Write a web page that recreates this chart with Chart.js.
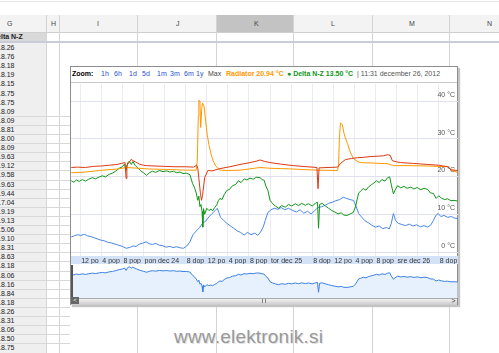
<!DOCTYPE html>
<html lang="sl">
<head>
<meta charset="utf-8" />
<title>Temperature - Delta N-Z</title>
<script src="https://cdn.jsdelivr.net/npm/chart.js@4.4.0/dist/chart.umd.min.js"></script>
<style>
  body { margin: 0; width: 499px; height: 353px; overflow: hidden; position: relative; background: #fff; font-family: "Liberation Sans", Arial, sans-serif; }
  .a { position: absolute; }
  .colhead { top: 15px; height: 17px; background: #f3f3f3; border-bottom: 1px solid #cfcfcf; }
  .vline { width: 1px; background: #d4d4d4; }
  .hline { height: 1px; background: #d8d8d8; }
  .cell { font-size: 7px; color: #222; white-space: nowrap; line-height: 9px; }
  #box { left: 70px; top: 66px; width: 386px; height: 237px; border: 1px solid #8d8d8d; background: #fff; box-shadow: 2px 2px 1px #c4c4c4; }
  .lnk { color: #2a4fd0; }
  #wm { left: 174px; top: 326px; font-size: 19px; color: #999; letter-spacing: 0.2px; text-shadow: 1px 1px 0 #e2e2e2, -1px 0 0 #fff; }
</style>
</head>
<body>
<div id="sheet"></div>

<div id="box" class="a"></div>
<div class="a" style="left:71px; top:82px; width:386px; height:1px; background:#c9c9c9;"></div>
<div id="legend"></div>

<canvas id="main" class="a" style="left:71px; top:83px;" width="387" height="181"></canvas>
<canvas id="nav" class="a" style="left:71px; top:265px;" width="387" height="33"></canvas>

<!-- scrollbar under the navigator -->
<div class="a" style="left:71px; top:298px; width:386px; height:6px; background:linear-gradient(#f2f2f2,#c9c9c9); border-top:1px solid #aaa;"></div>
<div class="a" style="left:71px; top:265px; width:2px; height:39px; background:#555;"></div>
<div class="a" style="left:71px; top:297px; width:8px; height:7px; background:#666; color:#fff; font-size:6px; line-height:7px; text-align:center;">&lt;</div>
<div class="a" style="left:450px; top:297px; width:7px; height:7px; color:#333; font-size:7px; line-height:7px; text-align:center;">&gt;</div>
<div class="a" style="left:262px; top:299px; width:1px; height:4px; background:#888;"></div>
<div class="a" style="left:265px; top:299px; width:1px; height:4px; background:#888;"></div>

<div id="wm" class="a">www.elektronik.si</div>

<script>
// time axis is hours from pon dec 24 2012 00:00
const xMin = -13.75;
const xMax = 59.65;

const tickHours = [-12, -8, -4, 0, 4, 8, 12, 16, 20, 24, 28, 32, 36, 40, 44, 48, 52, 56];
const tickLabels = ['12 po', '4 pop', '8 pop', 'pon dec 24', '', '8 dop', '12 po', '4 pop', '8 pop',
                    'tor dec 25', '', '8 dop', '12 po', '4 pop', '8 pop', 'sre dec 26', '', '8 dop'];
const yTicks = [0, 10, 20, 30, 40];

// red series
const redHours = [-13.7, -12.5, -11, -9.5, -8, -6.5, -5, -4.2, -3.5, -3.3, -3.15, -2.8, -2.3, -2, -1.5, -0.8,
  0, 0.6, 2, 4, 6, 8, 9.5, 10.1, 10.3, 10.5, 10.8, 11, 11.2, 11.6, 12.2, 13, 14.5, 16.4, 18.3, 20.2, 21.5, 22.1,
  23, 24, 26, 28.4, 31, 32.9, 33.1, 33.3, 35, 36.8, 37.3, 38.3, 39.5, 40.6, 41.8, 43, 44.5, 45.5, 46.3, 46.8,
  47.2, 48, 48.8, 51, 53.9, 56, 57.7, 58.3, 59.6];
const redTemps = [22.4, 22.5, 22.4, 22.7, 22.8, 23.0, 23.2, 23.5, 23.7, 19.5, 23.0, 23.6, 24.6, 24.2, 23.9, 23.3,
  23.0, 22.9, 22.8, 22.7, 22.6, 22.6, 22.5, 23.0, 22.2, 19.5, 15.5, 13.7, 15.0, 19.7, 21.6, 21.5, 22.1, 22.6, 23.2, 23.7, 24.1, 24.4,
  24.0, 23.7, 23.3, 22.9, 22.6, 22.4, 16.8, 22.3, 22.4, 22.5, 23.4, 24.5, 24.8, 25.0, 25.1, 25.3, 25.4, 25.5, 25.8, 25.6,
  24.2, 23.9, 23.7, 23.5, 23.2, 23.0, 22.6, 21.8, 21.6];

// Radiator (orange)
const radHours = [-13.7, -11, -8.4, -5, -3.2, -1, 1.1, 4, 6, 8, 10, 10.2, 10.4, 10.5, 10.7, 10.85, 11.05, 11.2,
  11.5, 11.8, 12.1, 12.4, 12.8, 13.2, 13.7, 14.5, 16, 18.3, 20, 22.1, 24, 28.4, 31, 33, 36.8, 37, 37.15, 37.35,
  37.7, 38.1, 38.7, 39.2, 39.8, 40.5, 41.1, 43, 46.3, 47.2, 47.6, 50, 54, 57.7, 58.5, 59.6];
const radTemps = [21.0, 21.2, 21.6, 22.0, 22.4, 22.2, 22.0, 21.9, 21.8, 21.7, 21.7, 24, 36, 40.2, 40.0, 33, 38, 39.5,
  38.5, 34.5, 31, 28.5, 26, 24.2, 22.8, 21.7, 21.6, 21.7, 22.0, 22.4, 22.2, 22.0, 21.8, 21.7, 21.6, 23, 30, 34.2,
  33.8, 31, 28.7, 26.5, 24.8, 24.1, 23.7, 23.6, 23.4, 23.0, 22.9, 22.9, 22.8, 22.6, 21.6, 21.1];

// Delta N-Z (green)
const deltaHours = [-13.7, -13.2, -12.7, -12.2, -11.6, -11, -10.4, -9.7, -9.1, -8.4, -7.8, -7.2, -6.5, -5.9, -5.3,
  -4.6, -4, -3.6, -3.3, -3, -2.7, -2.3, -2, -1.6, -1.1, -0.6, 0, 0.6, 1.1, 1.7, 2.3, 3, 3.7, 4.4, 5, 5.7, 6.3,
  6.9, 7.5, 8.1, 8.8, 9.3, 9.7, 10, 10.3, 10.5, 10.7, 10.9, 11.1, 11.25, 11.4, 11.6, 12, 12.4, 12.8, 13.1, 13.5,
  13.9, 14.2, 14.5, 14.9, 15.3, 15.8, 16.3, 16.9, 17.5, 18, 18.5, 19.1, 19.6, 20.2, 20.8, 21.4, 22.1, 22.5, 22.9,
  23.2, 23.6, 24, 24.5, 25, 25.6, 26.2, 26.9, 27.5, 28.1, 28.8, 29.4, 30, 30.7, 31.3, 32, 32.6, 33, 33.2, 33.4,
  33.9, 34.5, 35.1, 35.7, 36.3, 36.9, 37.5, 38, 38.6, 39.2, 39.8, 40.2, 40.5, 40.8, 41.2, 41.7, 42.2, 42.7, 43.2,
  43.7, 44.2, 44.7, 45.2, 45.8, 46.3, 46.7, 47, 47.4, 47.7, 48.2, 48.8, 49.4, 50, 50.7, 51.3, 51.9, 52.6, 53.2,
  53.9, 54.4, 55, 55.5, 56, 56.5, 57.1, 57.7, 58.3, 58.9, 59.6];
const deltaTemps = [18.9, 18.5, 19.1, 18.7, 19.2, 18.8, 19.3, 19.7, 19.4, 19.9, 20.2, 19.9, 20.6, 20.9, 21.4,
  22.2, 22.6, 23.3, 21.6, 23.6, 24.1, 23.2, 24.0, 23.0, 22.3, 21.6, 21.0, 20.3, 21.0, 21.4, 21.1, 21.6, 21.3, 21.5, 21.2, 21.4, 21.0,
  21.2, 20.8, 20.9, 20.5, 18.2, 17.0, 15.6, 13.7, 14.8, 12.0, 12.6, 10.8, 6.6, 11.5, 10.0, 11.6, 11.0, 11.4, 10.9, 11.8,
  12.5, 13.6, 14.2, 13.9, 15.2, 16.3, 16.6, 17.6, 17.9, 18.9, 18.4, 19.4, 19.1, 19.6, 19.3, 19.8, 19.7, 19.2, 19.0,
  17.5, 16.3, 13.7, 12.8, 12.2, 11.6, 12.3, 11.9, 12.6, 12.2, 12.8, 12.3, 12.9, 12.4, 12.8, 12.2, 12.9, 13.2, 6.3, 12.6,
  12.9, 12.2, 11.6, 11.0, 10.6, 10.1, 10.4, 9.8, 9.7, 10.1, 10.5, 12.0, 13.8, 15.6, 16.2, 16.8, 16.4, 17.3, 17.8,
  18.3, 18.9, 18.4, 19.2, 18.8, 19.7, 19.9, 17.8, 15.4, 16.4, 17.6, 17.0, 17.4, 16.9, 17.2, 16.7, 17.1, 16.5, 16.9,
  16.6, 15.7, 15.5, 14.2, 14.9, 14.3, 13.9, 14.1, 13.6, 13.7, 13.5];

// blue series
const blueHours = [-13.7, -13.1, -12.5, -11.9, -11.2, -10.6, -10, -9.4, -8.8, -8.2, -7.5, -6.8, -6.1, -5.4, -4.7,
  -4, -3.3, -2.6, -2, -1.4, -0.8, -0.2, 0.5, 1.1, 1.7, 2.3, 3, 3.6, 4.3, 5, 5.6, 6.3, 7, 7.6, 8.2, 8.8, 9.4, 10,
  10.6, 11.2, 11.8, 12.4, 13, 13.6, 14, 14.3, 14.6, 15.2, 15.8, 16.5, 17.1, 17.8, 18.4, 19.1, 19.7, 20.4, 21.1,
  21.7, 22.2, 22.7, 23.1, 23.6, 24.2, 24.8, 25.5, 26.1, 26.8, 27.5, 28.3, 29, 29.7, 30.4, 31.1, 31.8, 32.5, 33.1,
  33.8, 34.5, 35.1, 35.8, 36.5, 37.2, 37.9, 38.5, 39.2, 39.8, 40.3, 40.8, 41.4, 42, 42.6, 43.3, 44, 44.7, 45.4,
  46.1, 46.6, 47, 47.4, 47.8, 48.3, 49, 49.7, 50.4, 51.1, 51.8, 52.5, 53.2, 53.9, 54.5, 55, 55.5, 55.9, 56.4, 57,
  57.7, 58.4, 59, 59.6];
const blueTemps = [4.0, 4.3, 4.6, 4.4, 4.7, 4.3, 4.1, 3.8, 3.5, 3.2, 3.0, 2.6, 2.4, 2.1, 1.8,
  1.5, 1.0, 1.2, 1.6, 1.5, 2.1, 2.3, 2.7, 2.2, 2.0, 2.3, 1.8, 1.7, 1.3, 1.5, 1.2, 1.4, 1.1, 1.0, 1.6, 2.7, 4.6, 5.6,
  6.4, 7.6, 8.2, 9.3, 10.2, 11.0, 11.6, 10.4, 9.2, 8.4, 7.6, 6.9, 6.3, 5.6, 5.2, 4.5, 5.2, 4.6, 5.0,
  4.4, 5.3, 6.6, 8.4, 10.5, 11.2, 11.6, 11.3, 11.8, 11.2, 11.6, 11.0, 10.6, 11.2, 10.3, 10.8, 10.1, 11.0, 11.8,
  12.0, 12.4, 12.9, 13.2, 13.6, 13.9, 14.5, 14.2, 13.9, 13.7, 12.2, 10.2, 9.2, 8.3, 7.8, 7.1, 6.6, 6.9, 6.2,
  6.5, 6.1, 7.6, 10.2, 8.4, 7.6, 7.3, 7.0, 7.4, 6.9, 7.2, 6.7, 7.0, 6.6, 7.2, 8.4, 9.8, 10.2, 9.4, 9.7,
  9.2, 9.4, 9.0, 8.9];

// spreadsheet column G (Delta N-Z)
const sheetValues = ['18.26', '18.76', '18.18', '18.19', '18.15', '18.75', '18.75', '18.09', '18.09', '18.81', '18.00',
  '18.09', '19.63', '19.12', '19.58', '19.63', '19.44', '17.04', '19.19', '19.13', '15.06', '19.10', '18.31', '18.63',
  '18.18', '18.06', '18.16', '18.84', '18.18', '18.26', '18.31', '18.06', '18.50', '18.75'];

// ---- spreadsheet backdrop ----
var sheet = document.getElementById('sheet');
var html = '';
html += '<div class="a hline" style="left:0;top:1px;width:499px;background:#e6e6e6"></div>';
html += '<div class="a colhead" style="left:0;width:499px"></div>';
html += '<div class="a" style="left:216px;top:15px;width:77px;height:17px;background:#c3c3c3"></div>';
var cols = [['G', 7], ['H', 51], ['I', 97], ['J', 176], ['K', 254], ['L', 331], ['M', 409], ['N', 487]];
cols.forEach(function (c) {
  html += '<div class="a cell" style="left:' + c[1] + 'px;top:19px;color:#444">' + c[0] + '</div>';
});
var colLines = [46, 59, 137, 216, 293, 372, 449];
colLines.forEach(function (x) {
  html += '<div class="a vline" style="left:' + x + 'px;top:15px;height:338px"></div>';
});
html += '<div class="a" style="left:0;top:33px;width:46px;height:8px;background:#d9d9d9"></div>';
html += '<div class="a cell" style="left:-8px;top:32px;font-weight:bold">Delta N-Z</div>';
html += '<div class="a" style="left:0;top:41px;width:499px;height:2px;background:#c8ccd8"></div>';
html += '<div class="a" style="left:0;top:43px;width:46px;height:310px;background:#efefef"></div>';
sheetValues.forEach(function (v, i) {
  var y = 43 + i * 9.1;
  html += '<div class="a cell" style="left:-3px;top:' + y.toFixed(1) + 'px">' + v + '</div>';
  if (i >= 8) {
    html += '<div class="a hline" style="left:0;top:' + y.toFixed(1) + 'px;width:70px"></div>';
  }
});
sheet.innerHTML = html;

// ---- chart header (zoom links + legend) ----
var head = '';
head += '<span class="a" style="left:72px;top:69px;font-size:7px;font-weight:bold;line-height:10px">Zoom:</span>';
var zooms = [['1h', 101], ['6h', 114], ['1d', 129], ['5d', 142], ['1m', 157], ['3m', 170], ['6m', 184], ['1y', 196]];
zooms.forEach(function (z) {
  head += '<span class="a lnk" style="left:' + z[1] + 'px;top:69px;font-size:7px;line-height:10px">' + z[0] + '</span>';
});
head += '<span class="a" style="left:208px;top:69px;font-size:7px;line-height:10px;color:#444">Max</span>';
head += '<span class="a" style="left:226px;top:69px;font-size:7px;line-height:10px;color:#ff9900;font-weight:bold">Radiator 20.94 °C</span>';
head += '<span class="a" style="left:287px;top:69px;font-size:7px;line-height:10px;color:#109618;font-weight:bold">● Delta N-Z 13.50 °C</span>';
head += '<span class="a" style="left:357px;top:69px;font-size:7px;line-height:10px;color:#555">| 11:31 december 26, 2012</span>';
document.getElementById('legend').innerHTML = head;

// ---- charts ----
function pts(hs, vs) {
  return hs.map(function (h, i) { return { x: h, y: vs[i] }; });
}

var bandPlugin = {
  id: 'band',
  beforeDraw: function (chart) {
    var a = chart.chartArea, ctx = chart.ctx;
    ctx.save();
    ctx.fillStyle = '#d3e2f6';
    ctx.fillRect(a.left, a.bottom, a.right - a.left, 8);
    ctx.restore();
  }
};

new Chart(document.getElementById('main'), {
  type: 'line',
  data: {
    datasets: [
      { data: pts(redHours, redTemps), borderColor: '#dc3912' },
      { data: pts(radHours, radTemps), borderColor: '#ff9900' },
      { data: pts(deltaHours, deltaTemps), borderColor: '#109618' },
      { data: pts(blueHours, blueTemps), borderColor: '#4a86e8' }
    ]
  },
  options: {
    responsive: false,
    animation: false,
    events: [],
    layout: { padding: 0 },
    elements: { point: { radius: 0 }, line: { borderWidth: 1, tension: 0 } },
    plugins: { legend: { display: false }, tooltip: { enabled: false } },
    scales: {
      x: {
        type: 'linear', min: xMin, max: xMax,
        afterBuildTicks: function (s) { s.ticks = tickHours.map(function (v) { return { value: v }; }); },
        afterFit: function (s) { s.height = 8; },
        grid: { color: '#ebebf3', drawTicks: false },
        border: { display: false },
        ticks: {
          autoSkip: false, maxRotation: 0, align: 'start', padding: 1, labelOffset: 1,
          color: '#333', font: { size: 7, family: 'Liberation Sans' },
          callback: function (v, i) { return tickLabels[i]; }
        }
      },
      y: {
        position: 'right', min: -1.05, max: 44.47,
        afterBuildTicks: function (s) { s.ticks = yTicks.map(function (v) { return { value: v }; }); },
        afterFit: function (s) { s.width = 0; },
        grid: { color: '#e0e1ee', drawTicks: false },
        border: { display: false },
        ticks: {
          mirror: true, padding: -3, labelOffset: -6,
          color: '#555', font: { size: 7, family: 'Liberation Sans' },
          callback: function (v) { return v + ' °C'; }
        }
      }
    }
  },
  plugins: [bandPlugin]
});

new Chart(document.getElementById('nav'), {
  type: 'line',
  data: {
    datasets: [
      { data: pts(deltaHours, deltaTemps), borderColor: '#3b80e2', backgroundColor: '#e6f1fd', fill: 'start' }
    ]
  },
  options: {
    responsive: false,
    animation: false,
    events: [],
    layout: { padding: 0 },
    elements: { point: { radius: 0 }, line: { borderWidth: 1, tension: 0 } },
    plugins: { legend: { display: false }, tooltip: { enabled: false } },
    scales: {
      x: { type: 'linear', min: xMin, max: xMax, display: false },
      y: { min: 2.3, max: 25.4, display: false }
    }
  }
});
</script>
</body>
</html>
